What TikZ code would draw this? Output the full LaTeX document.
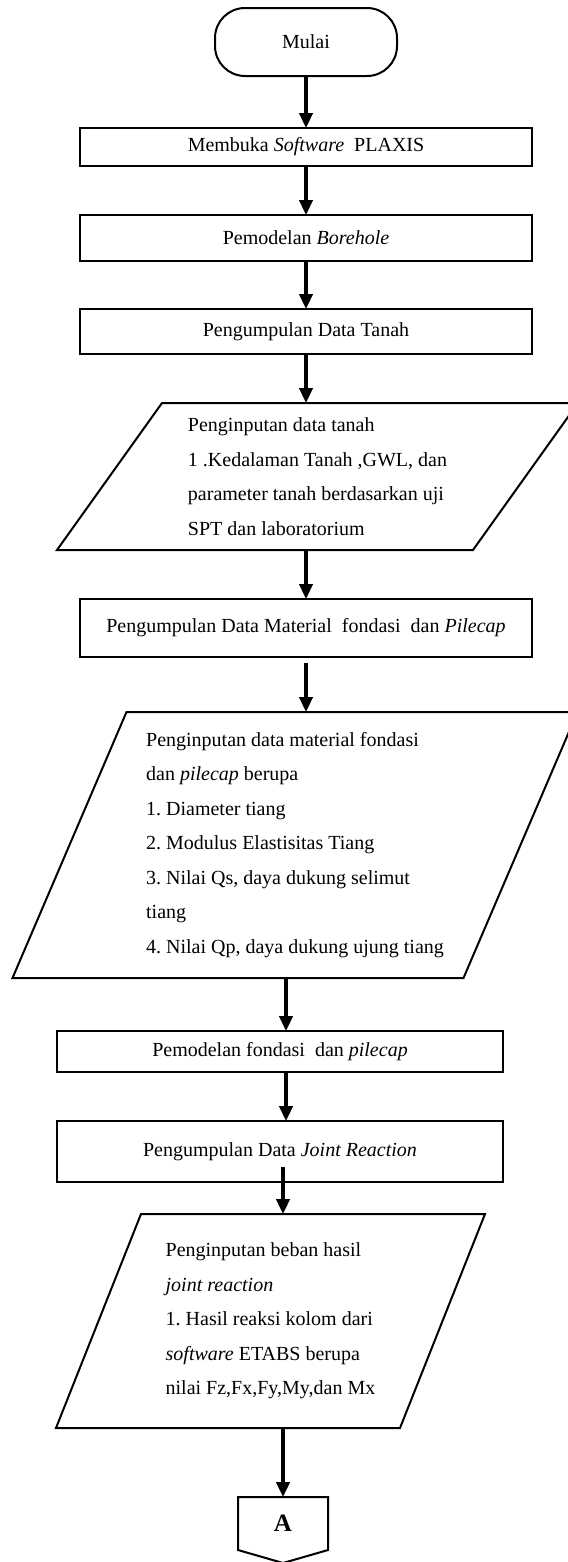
\documentclass[tikz,border=0pt]{standalone}
\usepackage{fontspec}
\setmainfont{Liberation Serif}
\usepackage{tikz}
\usetikzlibrary{positioning,arrows.meta}
\frenchspacing

\begin{document}
\begin{tikzpicture}[
  font=\fontsize{12pt}{20.7pt}\selectfont,
  every node/.style={outer sep=0pt},
  proc/.style={draw, line width=1.2pt, minimum width=271.2pt, align=center, inner sep=2pt},
  term/.style={draw, line width=1.2pt, rounded corners=18pt, minimum width=109.2pt, minimum height=40.8pt},
  iobox/.style={align=left, inner sep=0pt},
  slant/.style={line width=1.2pt, line join=miter},
  arr/.style={line width=2pt, -{Triangle[length=9pt,width=8pt]}}
]
\useasboundingbox (0,0) rectangle (340.2pt,-937.2pt);
\node[term] (mulai) at (183.6pt,-25.2pt) {Mulai};
\node[proc, minimum height=22.8pt, below=31.2pt of mulai] (buka) {Membuka \textit{Software}~ PLAXIS};
\node[proc, minimum height=27.6pt, below=29.4pt of buka] (bore) {Pemodelan \textit{Borehole}};
\node[proc, minimum height=27pt, below=28.8pt of bore] (tanah) {Pengumpulan Data Tanah};
\node[iobox, minimum width=249.6pt, minimum height=88.2pt, below=29.4pt of tanah, xshift=6.9pt] (in1)
  {Penginputan data tanah\\ 1 .Kedalaman Tanah ,GWL, dan\\ parameter tanah berdasarkan uji\\ SPT dan laboratorium};
\node[proc, minimum height=34.8pt, below=29.4pt of in1, xshift=-6.9pt] (mat) {Pengumpulan Data Material~ fondasi~ dan \textit{Pilecap}};
\node[iobox, minimum width=270.6pt, minimum height=159.6pt, below=33pt of mat, xshift=-6.6pt] (in2)
  {Penginputan data material fondasi\\ dan \textit{pilecap} berupa\\ 1. Diameter tiang\\ 2. Modulus Elastisitas Tiang\\ 3. Nilai Qs, daya dukung selimut\\ tiang\\ 4. Nilai Qp, daya dukung ujung tiang};
\node[proc, minimum width=267.6pt, minimum height=24.6pt, below=31.8pt of in2, xshift=-9pt] (model) {Pemodelan fondasi~ dan \textit{pilecap}};
\node[proc, minimum width=267.6pt, minimum height=36.6pt, below=29.4pt of model] (joint) {Pengumpulan Data \textit{Joint Reaction}};
\node[iobox, minimum width=206.4pt, minimum height=128.4pt, below=19.2pt of joint, xshift=-5.7pt] (in3)
  {Penginputan beban hasil\\ \textit{joint reaction}\\ 1. Hasil reaksi kolom dari\\ \textit{software} ETABS berupa\\ nilai Fz,Fx,Fy,My,dan Mx};
\node[minimum width=54pt, minimum height=31.8pt, inner sep=0pt, below=41.4pt of in3, xshift=7.5pt, font=\fontsize{15pt}{18pt}\selectfont\bfseries] (conA) {A};
% input shapes
\draw[slant] ([xshift=31.5pt]in1.north west) -- ([xshift=31.5pt]in1.north east) -- ([xshift=-31.5pt]in1.south east) -- ([xshift=-31.5pt]in1.south west) -- cycle;
\draw[slant] ([xshift=34.2pt]in2.north west) -- ([xshift=34.2pt]in2.north east) -- ([xshift=-34.2pt]in2.south east) -- ([xshift=-34.2pt]in2.south west) -- cycle;
\draw[slant] ([xshift=25.5pt]in3.north west) -- ([xshift=25.5pt]in3.north east) -- ([xshift=-25.5pt]in3.south east) -- ([xshift=-25.5pt]in3.south west) -- cycle;
\draw[slant] (conA.south west) -- (conA.north west) -- (conA.north east) -- (conA.south east) -- ([yshift=-7.8pt]conA.south) -- cycle;
% flow
\draw[arr] (mulai) -- (buka);
\draw[arr] (buka) -- (bore);
\draw[arr] (bore) -- (tanah);
\draw[arr] (tanah.south) -- (tanah.south |- in1.north);
\draw[arr] (mat.north |- in1.south) -- (mat.north);
\draw[arr] ([yshift=-3.6pt]mat.south) -- (mat.south |- in2.north);
\draw[arr] ([xshift=3.6pt]model.north |- in2.south) -- ([xshift=3.6pt]model.north);
\draw[arr] ([xshift=3.6pt]model.south) -- ([xshift=3.6pt]joint.north);
\draw[arr] ([yshift=9pt]joint.south -| conA.north) -- (conA.north |- in3.north);
\draw[arr] (conA.north |- in3.south) -- (conA.north);
\end{tikzpicture}
\end{document}
